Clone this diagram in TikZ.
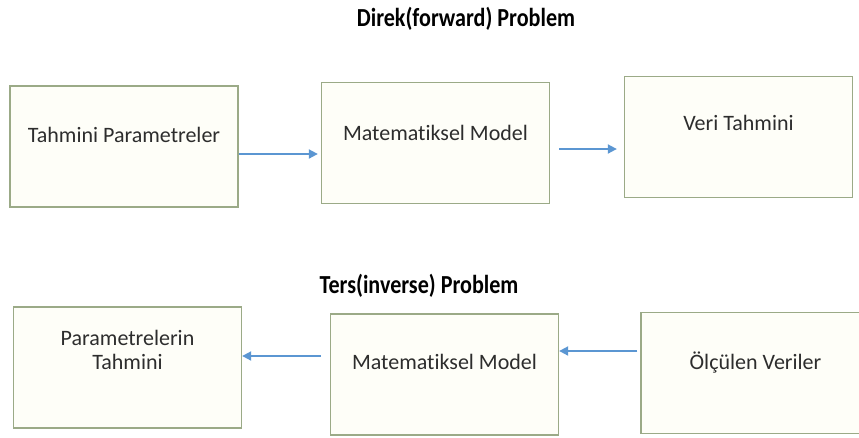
\documentclass[tikz,border=0pt]{standalone}
\usepackage{fontspec}
\setmainfont{Carlito}[Ligatures=CommonOff]
\usetikzlibrary{arrows.meta}
\definecolor{boxline}{RGB}{155,170,135}
\definecolor{boxfill}{RGB}{254,254,248}
\definecolor{arrowblue}{RGB}{91,150,210}
\definecolor{txtgray}{RGB}{45,45,45}

\begin{document}
\begin{tikzpicture}[x=1pt,y=-1pt,
  blk/.style={draw=boxline,fill=boxfill,line width=1.3pt,minimum width=228pt,minimum height=121pt,inner sep=0pt},
  txt/.style={anchor=base,text=txtgray,font=\fontsize{22}{24}\selectfont,inner sep=0pt,align=center},
  ttl/.style={anchor=base,text=black,font=\fontsize{26}{28}\selectfont\bfseries,inner sep=0pt},
  arr/.style={draw=arrowblue,line width=1.8pt,-{Triangle[length=9pt,width=9pt]}}]
  \clip (0,0) rectangle (859,437);
  % forward problem
  \node[ttl] (dtitle) at (466,26) {\scalebox{0.85}[1]{Direk(forward) Problem}};
  \node[blk] (b1) at (124,146.5) {};
  \node[blk] (b2) at (435.5,143) {};
  \node[blk] (b3) at (738.5,137) {};
  \node[txt] (t1) at (124,142) {Tahmini Parametreler};
  \node[txt] (t2) at (435.5,140) {Matematiksel Model};
  \node[txt] (t3) at (738.5,130) {Veri Tahmini};
  \draw[arr,shorten >=3pt] ([yshift=-7.5pt]b1.east) -- ([yshift=-7.5pt]b1.east -| b2.west);
  \draw[arr,shorten <=9pt,shorten >=7pt] ([yshift=-6pt]b2.east) -- ([yshift=-6pt]b2.east -| b3.west);
  % inverse problem
  \node[ttl] (ititle) at (419,293) {\scalebox{0.85}[1]{Ters(inverse) Problem}};
  \node[blk] (b4) at (127.5,367.5) {};
  \node[blk] (b5) at (444.5,374.5) {};
  \node[blk] (b6) at (755,373) {};
  \node[txt] (t4) at (127.5,369) {Parametrelerin\\Tahmini};
  \node[txt] (t5) at (444.5,369) {Matematiksel Model};
  \node[txt] (t6) at (755.5,369) {Ölçülen Veriler};
  \draw[arr,shorten <=9pt] ([yshift=18.5pt]b5.west) -- ([yshift=18.5pt]b5.west -| b4.east);
  \draw[arr,shorten <=3pt] ([yshift=22pt]b6.west) -- ([yshift=22pt]b6.west -| b5.east);
\end{tikzpicture}
\end{document}
